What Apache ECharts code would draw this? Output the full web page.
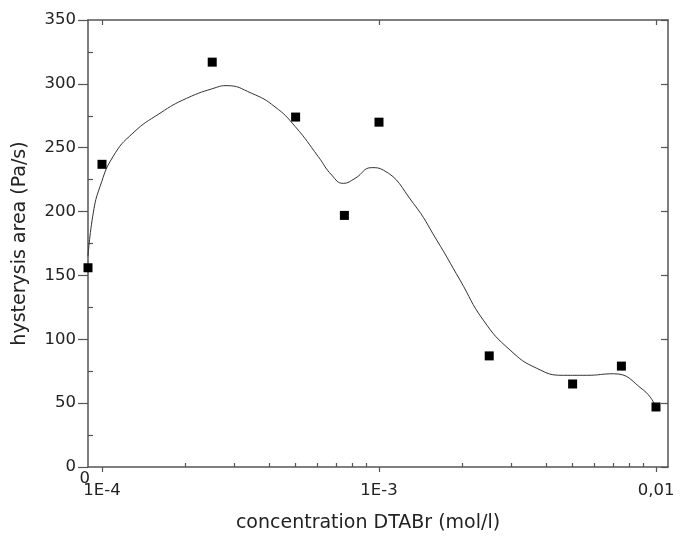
<!DOCTYPE html>
<html>
<head>
<meta charset="utf-8">
<script src="https://cdn.jsdelivr.net/npm/echarts@6/dist/echarts.min.js"></script>
<style>
html,body{margin:0;padding:0;background:#fff;}
#chart{width:687px;height:550px;}
</style>
</head>
<body>
<div id="chart"></div>
<script>
// Axis extent in log10(concentration); the left edge is the "0" break
const XMIN = -4.0505;
const XMAX = -1.9567;

// Measured points
const concentrations = [0, 1e-4, 2.5e-4, 5e-4, 7.5e-4, 1e-3, 2.5e-3, 5e-3, 7.5e-3, 1e-2];
const hysteresisArea = [156, 237, 317, 274, 197, 270, 87, 65, 79, 47];

// Fitted curve (x in log10 concentration)
const fitLogC = [-4.0505, -4.0314, -4.0072, -3.9603, -3.8881, -3.7906, -3.6942, -3.5859, -3.5523,
  -3.4596, -3.3755, -3.3022, -3.2191, -3.1708, -3.1289, -3.0866, -3.0264, -2.9845,
  -2.8762, -2.7917, -2.7076, -2.6235, -2.5271, -2.4307, -2.3346, -2.2502, -2.1542,
  -2.0458, -2.0036];
const fitArea = [165, 199, 219.5, 243, 261.5, 277, 288.7, 297.3, 298.6,
  292.6, 282, 266.5, 243, 228.6, 222.1, 226, 234.4, 232.5,
  206.5, 177.7, 146.4, 115, 91.6, 77.3, 71.8, 71.8, 73.0,
  60.3, 48.5];

// Tick labels
const xMajorTicks = [-4, -3, -2];
const xMajorLabels = ['1E-4', '1E-3', '0,01'];
const xMinorFactors = [2, 3, 4, 5, 6, 7, 8, 9];
const yMinorTicks = [25, 75, 125, 175, 225, 275, 325];

const xMinorTicks = [];
[-4, -3].forEach(function (d) {
  xMinorFactors.forEach(function (f) { xMinorTicks.push(d + Math.log10(f)); });
});
const toX = function (c) { return c === 0 ? XMIN : Math.log10(c); };

const AX = '#555';
const TXT = '#222';
const FONT = 'DejaVu Sans';

const chart = echarts.init(document.getElementById('chart'), null, {renderer: 'canvas'});
chart.setOption({
  animation: false,
  backgroundColor: '#fff',
  grid: {left: 88, right: 19, top: 20, bottom: 83, containLabel: false},
  xAxis: [
    {
      type: 'value', position: 'bottom', min: XMIN, max: XMAX,
      axisLine: {show: true, onZero: false, lineStyle: {color: AX, width: 1.5}},
      axisTick: {show: true, inside: false, length: 5, customValues: xMajorTicks, lineStyle: {color: AX, width: 1.2}},
      axisLabel: {
        show: true, customValues: xMajorTicks, margin: 15,
        color: TXT, fontFamily: FONT, fontSize: 16.5,
        formatter: function (v) { return xMajorLabels[xMajorTicks.indexOf(Math.round(v))] || ''; }
      },
      splitLine: {show: false},
      name: 'concentration DTABr (mol/l)', nameLocation: 'middle', nameGap: 47,
      nameTextStyle: {color: TXT, fontFamily: FONT, fontSize: 19, padding: [0, 20, 0, 0]}
    },
    {
      type: 'value', position: 'bottom', min: XMIN, max: XMAX,
      axisLine: {show: false, onZero: false},
      axisTick: {show: true, inside: true, length: 4, customValues: xMinorTicks, lineStyle: {color: AX, width: 1.2}},
      axisLabel: {show: false},
      splitLine: {show: false}
    },
    {
      type: 'value', position: 'bottom', min: XMIN, max: XMAX,
      axisLine: {show: false, onZero: false},
      axisTick: {show: false},
      axisLabel: {
        show: true, customValues: [XMIN], margin: 3, align: 'right', padding: [0, -2, 0, 0],
        color: TXT, fontFamily: FONT, fontSize: 16.5,
        formatter: function () { return '0'; }
      },
      splitLine: {show: false}
    },
    {
      type: 'value', position: 'top', min: XMIN, max: XMAX,
      axisLine: {show: true, onZero: false, lineStyle: {color: AX, width: 1.5}},
      axisTick: {show: true, inside: true, length: 5, customValues: xMajorTicks, lineStyle: {color: AX, width: 1.2}},
      axisLabel: {show: false},
      splitLine: {show: false}
    }
  ],
  yAxis: [
    {
      type: 'value', position: 'left', min: 0, max: 350, interval: 50,
      axisLine: {show: true, onZero: false, lineStyle: {color: AX, width: 1.5}},
      axisTick: {show: true, inside: false, length: 10, lineStyle: {color: AX, width: 1.2}},
      axisLabel: {show: true, margin: 12, color: TXT, fontFamily: FONT, fontSize: 16.5},
      splitLine: {show: false},
      name: 'hysterysis area (Pa/s)', nameLocation: 'middle', nameGap: 58,
      nameTextStyle: {color: TXT, fontFamily: FONT, fontSize: 19}
    },
    {
      type: 'value', position: 'left', min: 0, max: 350,
      axisLine: {show: false, onZero: false},
      axisTick: {show: true, inside: true, length: 5, customValues: yMinorTicks, lineStyle: {color: AX, width: 1.2}},
      axisLabel: {show: false},
      splitLine: {show: false}
    },
    {
      type: 'value', position: 'right', min: 0, max: 350, interval: 50,
      axisLine: {show: true, onZero: false, lineStyle: {color: AX, width: 1.5}},
      axisTick: {show: true, inside: true, length: 7, lineStyle: {color: AX, width: 1.2}},
      axisLabel: {show: false},
      splitLine: {show: false}
    }
  ],
  series: [
    {
      type: 'line', xAxisIndex: 0, yAxisIndex: 0,
      data: fitLogC.map(function (x, i) { return [x, fitArea[i]]; }),
      smooth: 0.5, showSymbol: false, symbol: 'none',
      lineStyle: {color: '#333', width: 1}, z: 2
    },
    {
      type: 'scatter', xAxisIndex: 0, yAxisIndex: 0,
      data: concentrations.map(function (c, i) { return [toX(c), hysteresisArea[i]]; }),
      symbol: 'rect', symbolSize: 9, clip: false,
      itemStyle: {color: '#000', opacity: 1}, z: 3
    }
  ]
});
</script>
</body>
</html>
